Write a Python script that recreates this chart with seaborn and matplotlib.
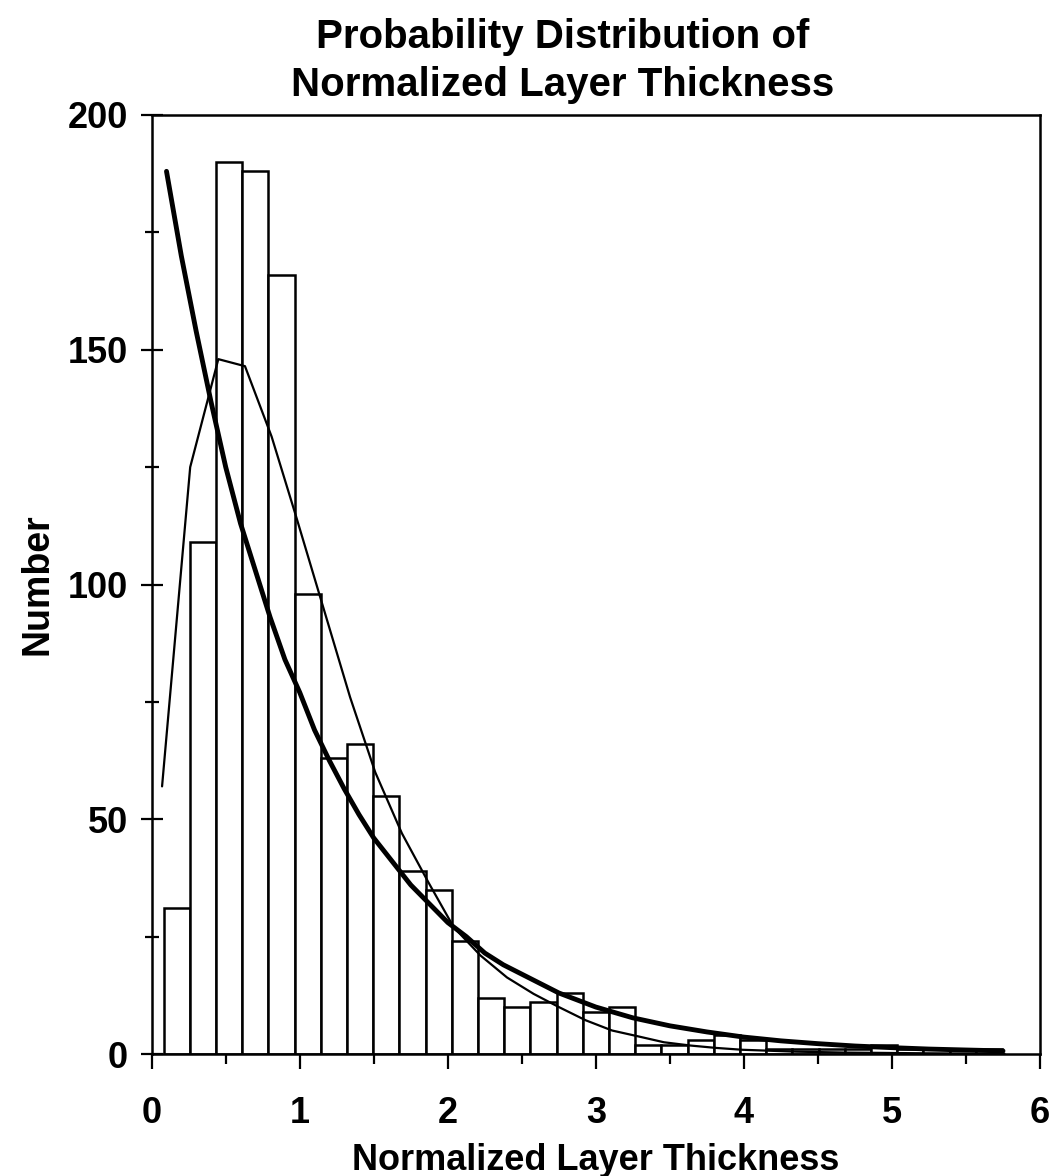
import numpy as np
import pandas as pd
import matplotlib
matplotlib.use("Agg")
import matplotlib.pyplot as plt
from matplotlib.ticker import MultipleLocator
import seaborn as sns

# ---------------- data ----------------
bin_edges = [0.080, 0.257, 0.434, 0.611, 0.788, 0.965, 1.142, 1.319, 1.496,
             1.673, 1.850, 2.027, 2.204, 2.381, 2.558, 2.735, 2.912, 3.089,
             3.266, 3.443, 3.620, 3.797, 3.974, 4.151, 4.328, 4.505, 4.682,
             4.859, 5.036, 5.213, 5.390, 5.567, 5.744]
counts = [31, 109, 190, 188, 166, 98, 63, 66, 55, 39, 35, 24, 12, 10, 11, 13,
          9, 10, 2, 2, 3, 4, 3, 1, 1, 1, 1, 2, 1, 1, 1, 1]

# thin fitted curve (polyline)
fit_x = [0.07, 0.26, 0.45, 0.63, 0.81, 0.98, 1.16, 1.34, 1.51, 1.69, 1.87,
         2.04, 2.22, 2.40, 2.58, 2.75, 2.93, 3.11, 3.28, 3.46, 3.64, 3.81,
         3.99, 4.17, 4.35, 4.52, 4.70, 4.88, 5.05, 5.23, 5.41, 5.58, 5.76]
fit_y = [57, 125, 148, 146.5, 131.5, 114, 95, 76, 60, 47, 36.5, 27, 21, 16.3,
         12.8, 10, 7.2, 5.0, 3.8, 2.5, 1.8, 1.3, 0.9, 0.7, 0.5, 0.4, 0.3,
         0.25, 0.2, 0.15, 0.12, 0.1, 0.08]

# thick exponential curve
exp_x = [0.10, 0.15, 0.20, 0.30, 0.40, 0.50, 0.60, 0.70, 0.80, 0.90, 1.00,
         1.10, 1.20, 1.30, 1.40, 1.50, 1.625, 1.75, 1.875, 2.00, 2.125, 2.25,
         2.375, 2.50, 2.75, 3.00, 3.25, 3.50, 3.75, 4.00, 4.25, 4.50, 4.75,
         5.00, 5.25, 5.50, 5.75]
exp_y = [188, 179, 170, 154, 139, 125, 113, 103, 93, 84, 77,
         69, 62.5, 56.5, 51, 46, 41, 36, 32, 28, 25, 21.5,
         19, 17, 13, 10, 7.7, 6.0, 4.7, 3.6, 2.8, 2.2, 1.7,
         1.35, 1.05, 0.85, 0.66]

title_lines = ["Probability Distribution of", "Normalized Layer Thickness"]
x_label = "Normalized Layer Thickness"
y_label = "Number"
x_ticks = [0, 1, 2, 3, 4, 5, 6]
y_ticks = [0, 50, 100, 150, 200]

# ---------------- styling ----------------
sns.set_style("ticks")
plt.rcParams["font.family"] = ["Liberation Sans", "DejaVu Sans"]
plt.rcParams["font.weight"] = "bold"
plt.rcParams["text.color"] = "black"
plt.rcParams["axes.labelcolor"] = "black"
plt.rcParams["xtick.color"] = "black"
plt.rcParams["ytick.color"] = "black"

fig = plt.figure(figsize=(10.59, 11.76), dpi=100)
ax = fig.add_axes([151.7 / 1059, 1 - 1054 / 1176, (1040 - 151.7) / 1059, (1054 - 115) / 1176])

centers = [(a + b) / 2 for a, b in zip(bin_edges[:-1], bin_edges[1:])]
df = pd.DataFrame({"x": centers, "n": counts})
sns.histplot(data=df, x="x", weights="n", bins=bin_edges, ax=ax,
             color="white", edgecolor="black", linewidth=1.8, alpha=1.0, zorder=2)

sns.lineplot(x=fit_x, y=fit_y, ax=ax, color="black", linewidth=1.6, zorder=3)
sns.lineplot(x=exp_x, y=exp_y, ax=ax, color="black", linewidth=3.5, zorder=4)

ax.set_xlim(0, 6)
ax.set_ylim(0, 200)
ax.set_xticks(x_ticks)
ax.set_yticks(y_ticks)
ax.xaxis.set_minor_locator(MultipleLocator(0.5))
ax.yaxis.set_minor_locator(MultipleLocator(25))

for s in ax.spines.values():
    s.set_visible(True)
    s.set_linewidth(1.8)
    s.set_color("black")

ax.tick_params(axis="x", which="major", direction="out", length=11, width=1.6,
               pad=19, labelsize=26, colors="black")
ax.tick_params(axis="x", which="minor", direction="out", length=7, width=1.6)
ax.tick_params(axis="y", which="major", direction="inout", length=16, width=1.6,
               pad=9, labelsize=26, colors="black")
ax.tick_params(axis="y", which="minor", direction="inout", length=10, width=1.6)
ax.tick_params(top=False, right=False, which="both")
for lab in ax.get_xticklabels() + ax.get_yticklabels():
    lab.set_fontweight("bold")
    lab.set_color("black")

ax.set_xlabel(x_label, fontsize=26, fontweight="bold", color="black")
ax.set_ylabel(y_label, fontsize=27, fontweight="bold", color="black")
ax.xaxis.label.set_va("baseline")
ax.xaxis.set_label_coords(0.5, (1054 - 1170) / 939)
ax.yaxis.label.set_va("center")
ax.yaxis.label.set_ha("center")
ax.yaxis.set_label_coords((38 - 151.7) / 888.3, 0.5)

fig.text(563 / 1059, 1 - 48 / 1176, title_lines[0], ha="center", va="baseline",
         fontsize=29, fontweight="bold", color="black")
fig.text(563 / 1059, 1 - 96 / 1176, title_lines[1], ha="center", va="baseline",
         fontsize=29, fontweight="bold", color="black")

fig.savefig("out.png", dpi=100, facecolor="white")
